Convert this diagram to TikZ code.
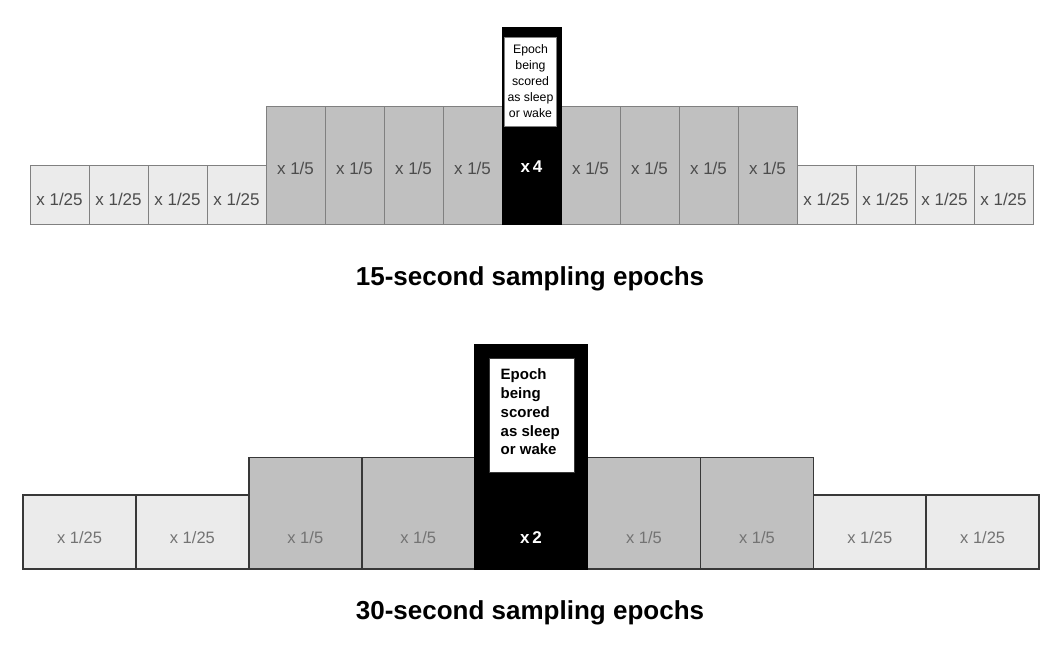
\documentclass[tikz,border=0pt]{standalone}
\usepackage{fontspec}
\setmainfont{Liberation Sans}
\usepackage{xcolor}
\definecolor{lightep}{HTML}{EBEBEB}
\definecolor{nearep}{HTML}{C0C0C0}
\definecolor{topline}{HTML}{808080}
\definecolor{botline}{HTML}{383838}

\begin{document}
\begin{tikzpicture}[x=1pt,y=-1pt,
  farbox/.style={fill=lightep,draw=topline,line width=1pt},
  nearbox/.style={fill=nearep,draw=topline,line width=1pt},
  scorebox/.style={fill=black,draw=black,line width=1pt},
  farbig/.style={fill=lightep,draw=botline,line width=1.6pt},
  nearbig/.style={fill=nearep,draw=botline,line width=1.6pt},
  wt/.style={text=black!70,font=\fontsize{17}{20}\selectfont,inner sep=0pt},
  wtbig/.style={text=black!55,font=\fontsize{16.5}{20}\selectfont,inner sep=0pt},
  mult/.style={text=white,font=\bfseries\fontsize{17}{20}\selectfont,inner sep=0pt},
  caption/.style={font=\bfseries\fontsize{26}{30}\selectfont,inner sep=0pt}]
\useasboundingbox (0,0) rectangle (1062,662);
% 15-second epochs
\draw[farbox] (30,165) rectangle (89,224);
\draw[farbox] (89,165) rectangle (148,224);
\draw[farbox] (148,165) rectangle (207,224);
\draw[farbox] (207,165) rectangle (266,224);
\draw[farbox] (797,165) rectangle (856,224);
\draw[farbox] (856,165) rectangle (915,224);
\draw[farbox] (915,165) rectangle (974,224);
\draw[farbox] (974,165) rectangle (1033,224);
\draw[nearbox] (266,106) rectangle (325,224);
\draw[nearbox] (325,106) rectangle (384,224);
\draw[nearbox] (384,106) rectangle (443,224);
\draw[nearbox] (443,106) rectangle (502,224);
\draw[nearbox] (561,106) rectangle (620,224);
\draw[nearbox] (620,106) rectangle (679,224);
\draw[nearbox] (679,106) rectangle (738,224);
\draw[nearbox] (738,106) rectangle (797,224);
\draw[scorebox] (502,27) rectangle (561,224);
\draw[fill=white,draw=topline,line width=0.6pt] (504.5,37.5) rectangle (556.5,126.5);
\node[inner sep=0pt,align=center,font=\fontsize{12.3}{16.2}\selectfont] (fscore) at (530.5,81) {Epoch\\being\\scored\\as sleep\\or wake};
\node[wt] (f1) at (59.5,199) {x 1/25};
\node[wt] (f2) at (118.5,199) {x 1/25};
\node[wt] (f3) at (177.5,199) {x 1/25};
\node[wt] (f4) at (236.5,199) {x 1/25};
\node[wt] (f5) at (295.5,168) {x 1/5};
\node[wt] (f6) at (354.5,168) {x 1/5};
\node[wt] (f7) at (413.5,168) {x 1/5};
\node[wt] (f8) at (472.5,168) {x 1/5};
\node[mult] (f9) at (531.5,166.5) {x\,4};
\node[wt] (f10) at (590.5,168) {x 1/5};
\node[wt] (f11) at (649.5,168) {x 1/5};
\node[wt] (f12) at (708.5,168) {x 1/5};
\node[wt] (f13) at (767.5,168) {x 1/5};
\node[wt] (f14) at (826.5,199) {x 1/25};
\node[wt] (f15) at (885.5,199) {x 1/25};
\node[wt] (f16) at (944.5,199) {x 1/25};
\node[wt] (f17) at (1003.5,199) {x 1/25};
\node[caption] (fcap) at (530,278.5) {15-second sampling epochs};
% 30-second epochs
\draw[farbig] (23,495) rectangle (135.9,569);
\draw[farbig] (135.9,495) rectangle (248.8,569);
\draw[farbig] (813.3,495) rectangle (926.2,569);
\draw[farbig] (926.2,495) rectangle (1039.1,569);
\draw[nearbig] (248.8,457.5) rectangle (361.7,569);
\draw[nearbig] (361.7,457.5) rectangle (474.6,569);
\draw[nearbig] (587.5,457.5) rectangle (700.4,569);
\draw[nearbig] (700.4,457.5) rectangle (813.3,569);
\draw[fill=black,draw=black,line width=1.6pt] (474.6,345) rectangle (587.5,569);
\draw[fill=white,draw=botline,line width=0.8pt] (489,358) rectangle (574,472);
\node[inner sep=0pt,anchor=west,align=left,font=\bfseries\fontsize{15}{18.8}\selectfont] (tscore) at (500.5,412) {Epoch\\being\\scored\\as sleep\\or wake};
\node[wtbig] (t1) at (79.5,537.5) {x 1/25};
\node[wtbig] (t2) at (192.4,537.5) {x 1/25};
\node[wtbig] (t3) at (305.3,537.5) {x 1/5};
\node[wtbig] (t4) at (418.2,537.5) {x 1/5};
\node[mult] (t5) at (531,537.5) {x\,2};
\node[wtbig] (t6) at (644,537.5) {x 1/5};
\node[wtbig] (t7) at (756.9,537.5) {x 1/5};
\node[wtbig] (t8) at (869.8,537.5) {x 1/25};
\node[wtbig] (t9) at (982.7,537.5) {x 1/25};
\node[caption] (tcap) at (530,612.7) {30-second sampling epochs};
\end{tikzpicture}
\end{document}
